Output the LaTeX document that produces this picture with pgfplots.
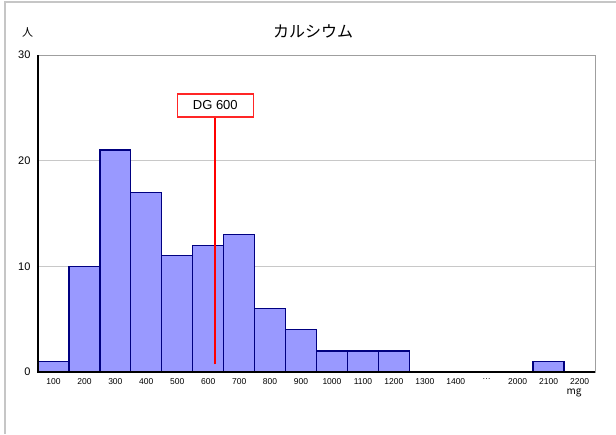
\documentclass[border=0pt]{standalone}
\usepackage{pgfplots}
\pgfplotsset{compat=1.18}
\usepackage{fontspec}
\setmainfont{Liberation Sans}
\newfontfamily\cjk{Noto Sans CJK JP}
\definecolor{barfill}{HTML}{9999FF}
\definecolor{baredge}{HTML}{000080}
\definecolor{gridc}{HTML}{C8C8C8}
\begin{document}
\begin{tikzpicture}[x=1pt,y=1pt]
\useasboundingbox (0,0) rectangle (616,-434);
\draw[gray!45, line width=1.5pt] (5,-434) -- (5,-2) -- (616,-2);
\node[font=\cjk\fontsize{16}{18}\selectfont] at (313,-31) {カルシウム};
\node[font=\cjk\fontsize{11}{12}\selectfont] at (27.5,-32) {人};
\node[font=\cjk\fontsize{10}{11}\selectfont] at (574,-393) {mg};
\begin{axis}[
  at={(38pt,-372pt)}, anchor=south west,
  scale only axis, width=557pt, height=317pt,
  xmin=0, xmax=18, ymin=0, ymax=30,
  xtick={0.5,1.5,2.5,3.5,4.5,5.5,6.5,7.5,8.5,9.5,10.5,11.5,12.5,13.5,14.5,15.5,16.5,17.5},
  xticklabels={100,200,300,400,500,600,700,800,900,1000,1100,1200,1300,1400,{…},2000,2100,2200},
  ytick={0,10,20,30},
  major tick length=0pt,
  ymajorgrids, grid style={gridc, line width=0.8pt},
  axis line style={gray!75, line width=1pt},
  x tick label style={font=\fontsize{8.5}{10}\selectfont, yshift=-3pt},
  y tick label style={font=\fontsize{11}{12}\selectfont, xshift=-4pt},
  /pgf/number format/assume math mode=true,
  clip=false,
]
\addplot[ybar, bar width=1, bar shift=0pt, fill=barfill, draw=baredge, line width=1.3pt]
  coordinates {(0.5,1) (1.5,10) (2.5,21) (3.5,17) (4.5,11) (5.5,12) (6.5,13) (7.5,6) (8.5,4) (9.5,2) (10.5,2) (11.5,2) (16.5,1)};
\draw[black, line width=1.2pt] (rel axis cs:0,1) -- (rel axis cs:0,0) -- (rel axis cs:1,0);
\addplot[red, line width=2pt] coordinates {(5.71,0.73) (5.71,24.13)};
\node[draw=red!85, line width=1.2pt, fill=white, minimum width=76pt, minimum height=23pt, inner sep=0pt, font=\fontsize{13}{15}\selectfont] at (axis cs:5.73,25.22) {DG 600};
\end{axis}
\end{tikzpicture}
\end{document}
